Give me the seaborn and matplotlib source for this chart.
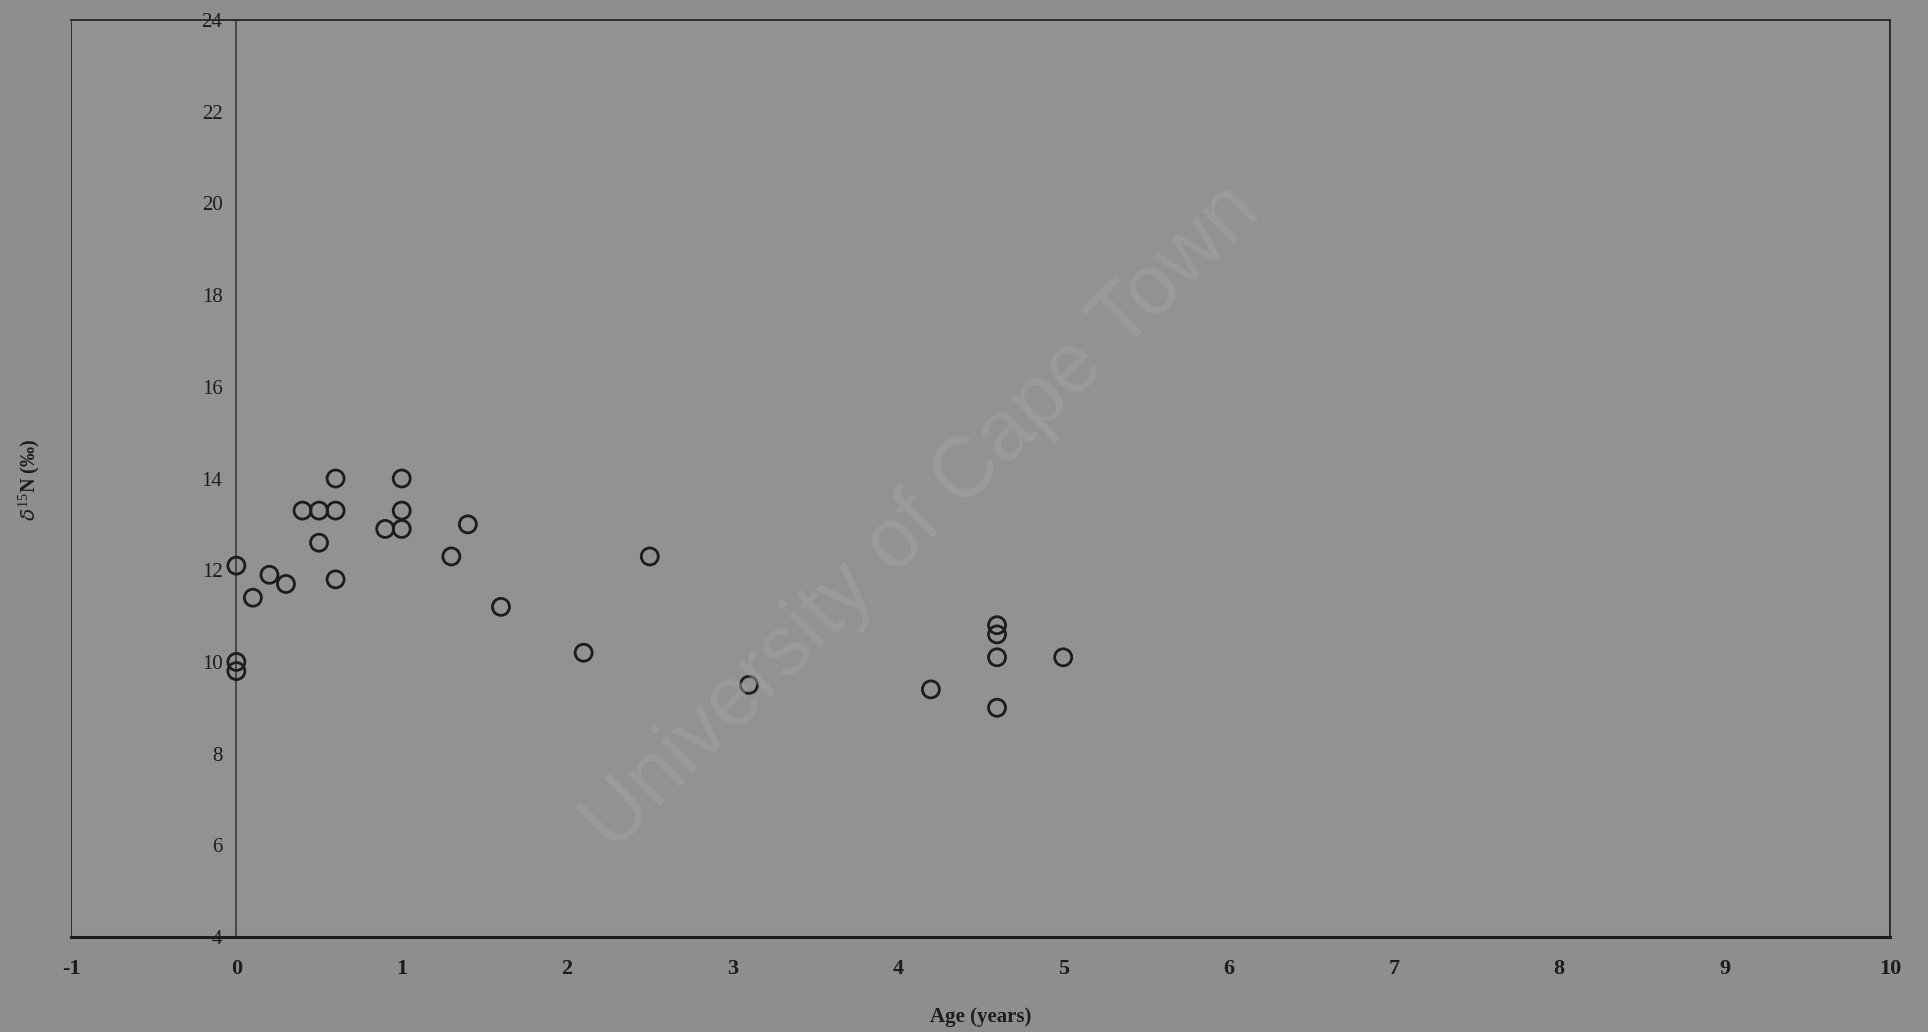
import matplotlib
matplotlib.use("Agg")
import matplotlib.pyplot as plt
from matplotlib.patches import Rectangle
import seaborn as sns

# Age (years) and d15N (per mil)
age = [0.0, 0.0, 0.0, 0.1, 0.2, 0.3, 0.4, 0.5, 0.5, 0.6, 0.6, 0.6, 0.9, 1.0, 1.0,
       1.0, 1.3, 1.4, 1.6, 2.1, 2.5, 3.1, 4.2, 4.6, 4.6, 4.6, 4.6, 5.0]
d15n = [12.1, 10.0, 9.8, 11.4, 11.9, 11.7, 13.3, 13.3, 12.6, 14.0, 13.3, 11.8, 12.9, 14.0, 13.3,
        12.9, 12.3, 13.0, 11.2, 10.2, 12.3, 9.5, 9.4, 10.8, 10.6, 10.1, 9.0, 10.1]

x_ticks = list(range(-1, 11))
y_ticks = list(range(4, 25, 2))

sns.set_theme(style="white")
plt.rcParams['font.family'] = ['Liberation Serif', 'DejaVu Serif']
plt.rcParams['mathtext.fontset'] = 'custom'
plt.rcParams['mathtext.rm'] = 'Liberation Serif'
plt.rcParams['mathtext.bf'] = 'Liberation Serif:bold'

bg = '#8e8e8e'
ink = '#1c1c1c'

fig = plt.figure(figsize=(19.28, 10.32), dpi=100, facecolor=bg)
ax = fig.add_axes([71 / 1928, 1 - 937 / 1032, (1890 - 71) / 1928, (937 - 20) / 1032])
ax.set_facecolor('#929292')

sns.scatterplot(x=age, y=d15n, ax=ax, s=150, marker='o', facecolor='none',
                edgecolor=ink, linewidth=2.0, zorder=5)

# y axis crosses at x = 0 like the original spreadsheet chart
# (set before tick styling, since moving a spine resets the ticks)
ax.spines['left'].set_position(('data', 0))
ax.spines['left'].set_color('#3a3a3a')
ax.spines['left'].set_linewidth(1.2)
ax.spines['bottom'].set_color(ink)
ax.spines['bottom'].set_linewidth(2.2)
for side in ['top', 'right']:
    ax.spines[side].set_color('#2a2a2a')
    ax.spines[side].set_linewidth(1.3)

ax.set_xlim(-1, 10)
ax.set_ylim(4, 24)
ax.set_xticks(x_ticks)
ax.set_yticks(y_ticks)
ax.set_xticklabels([str(v) for v in x_ticks], fontsize=16, fontweight='bold', color=ink)
ax.set_yticklabels([str(v) for v in y_ticks], fontsize=15, color=ink)

# plot area frame on the left (x = -1)
ax.add_patch(Rectangle((0, 0), 1, 1, transform=ax.transAxes, fill=False,
                       edgecolor='#2a2a2a', linewidth=1.3, zorder=1))

ax.tick_params(axis='y', direction='out', length=4, width=1, color='#3a3a3a', pad=6)
ax.tick_params(axis='x', direction='out', length=4, width=1, color='#3a3a3a', pad=12)
ax.grid(False)

ax.set_xlabel('Age (years)', fontsize=15, fontweight='bold', color=ink, labelpad=20)
fig.text(29 / 1928, 1 - 480 / 1032, r'$\delta^{15}$N (‰)', rotation=90, fontsize=14.5,
         fontweight='bold', color=ink, ha='center', va='center')

# scanned watermark
fig.text(922 / 1928, 1 - 518 / 1032, 'University of Cape Town', rotation=44.5,
         fontsize=61, family='Liberation Sans', color='#a3a3a3', alpha=0.5,
         ha='center', va='center', rotation_mode='anchor', zorder=10)

fig.savefig('out.png', dpi=100, facecolor=bg)
